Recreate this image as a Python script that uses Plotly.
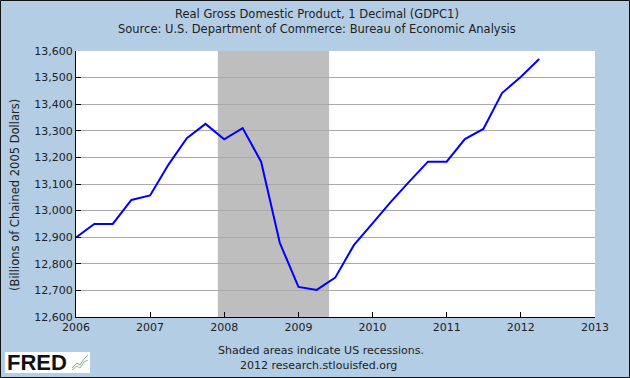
import plotly.graph_objects as go

dates = ["2006-01-01", "2006-04-01", "2006-07-01", "2006-10-01",
         "2007-01-01", "2007-04-01", "2007-07-01", "2007-10-01",
         "2008-01-01", "2008-04-01", "2008-07-01", "2008-10-01",
         "2009-01-01", "2009-04-01", "2009-07-01", "2009-10-01",
         "2010-01-01", "2010-04-01", "2010-07-01", "2010-10-01",
         "2011-01-01", "2011-04-01", "2011-07-01", "2011-10-01",
         "2012-01-01", "2012-04-01"]
gdp = [12899, 12950, 12950, 13040,
       13057, 13172, 13272, 13326,
       13268, 13310, 13184, 12879,
       12713, 12702, 12748, 12870,
       12952, 13033, 13109, 13184,
       13184, 13269, 13307, 13442,
       13502, 13570]
recession_start = "2007-12-01"
recession_end = "2009-06-01"
year_ticks = ["2006", "2007", "2008", "2009", "2010", "2011", "2012", "2013"]

BG = "#B3CDE5"
FONT = "DejaVu Sans"
W, H = 630, 378
ML, MR, MT, MB = 76, 35, 51, 61

fig = go.Figure()
fig.add_trace(go.Scatter(x=dates, y=gdp, mode="lines",
                         line=dict(color="#0000FF", width=2), hoverinfo="skip"))

fig.add_shape(type="rect", xref="x", yref="paper", x0=recession_start, x1=recession_end,
              y0=0, y1=1, fillcolor="#BEBEBE", line_width=0, layer="below")

fig.update_layout(
    width=W, height=H,
    margin=dict(l=ML, r=MR, t=MT, b=MB),
    paper_bgcolor=BG, plot_bgcolor="white",
    showlegend=False,
    font=dict(family=FONT, size=11, color="#222222"),
)
fig.update_xaxes(
    type="date", range=["2006-01-01", "2013-01-01"],
    tickvals=[y + "-01-01" for y in year_ticks], ticktext=year_ticks,
    ticks="inside", ticklen=5, tickcolor="black",
    showline=True, linecolor="black", linewidth=1,
    showgrid=False, zeroline=False,
    tickfont=dict(family=FONT, size=11, color="#222222"),
)
fig.update_yaxes(
    range=[12600, 13600], dtick=100, tickformat=",",
    ticks="inside", ticklen=5, tickcolor="black",
    showline=True, linecolor="black", linewidth=1,
    showgrid=True, gridcolor="#A9A9A9", gridwidth=1, zeroline=False,
    tickfont=dict(family=FONT, size=11, color="#222222"),
)


def px_x(v):
    return (v - ML) / (W - ML - MR)


def px_y(v):
    return (H - v - MB) / (H - MT - MB)


ann = [
    ("Real Gross Domestic Product, 1 Decimal (GDPC1)", 317, 14, 11.5),
    ("Source: U.S. Department of Commerce: Bureau of Economic Analysis", 317, 29, 11.5),
    ("Shaded areas indicate US recessions.", 321, 350, 11),
    ("2012 research.stlouisfed.org", 318, 365, 11),
]
for text, ax, ay, fs in ann:
    fig.add_annotation(text=text, xref="paper", yref="paper",
                       x=px_x(ax), y=px_y(ay),
                       showarrow=False, xanchor="center", yanchor="middle",
                       font=dict(family=FONT, size=fs, color="#222222"))

# y-axis title (rotated)
fig.add_annotation(text="(Billions of Chained 2005 Dollars)", xref="paper", yref="paper",
                   x=px_x(15), y=px_y(195), textangle=-90,
                   showarrow=False, xanchor="center", yanchor="middle",
                   font=dict(family=FONT, size=11.5, color="#222222"))

# FRED logo box
fig.add_shape(type="rect", xref="paper", yref="paper",
              x0=px_x(5), x1=px_x(90), y0=px_y(373), y1=px_y(352),
              fillcolor="white", line_width=0)
fig.add_annotation(text="<b>FRED</b>", xref="paper", yref="paper",
                   x=px_x(5), y=px_y(362.5), xanchor="left", yanchor="middle",
                   showarrow=False,
                   font=dict(family="Liberation Sans", size=22, color="#111111"))
fig.add_shape(type="path", xref="paper", yref="paper",
              path="M {} {} L {} {} L {} {} L {} {} L {} {}".format(
                  px_x(72), px_y(368), px_x(77), px_y(363), px_x(80), px_y(365),
                  px_x(84), px_y(359), px_x(88), px_y(355)),
              line=dict(color="#7FA0C8", width=1))
fig.add_shape(type="path", xref="paper", yref="paper",
              path="M {} {} L {} {} L {} {} L {} {} L {} {}".format(
                  px_x(72), px_y(370), px_x(77), px_y(366), px_x(80), px_y(368),
                  px_x(84), px_y(362), px_x(88), px_y(360)),
              line=dict(color="#8DBF6A", width=1))

# outer frame
fig.add_shape(type="rect", xref="paper", yref="paper",
              x0=px_x(0.5), x1=px_x(629.5), y0=px_y(377.5), y1=px_y(0.5),
              line=dict(color="#111111", width=1), fillcolor="rgba(0,0,0,0)")

fig.write_html("out.html", config={"displayModeBar": False},
               post_script="document.body.style.margin='0px';")
